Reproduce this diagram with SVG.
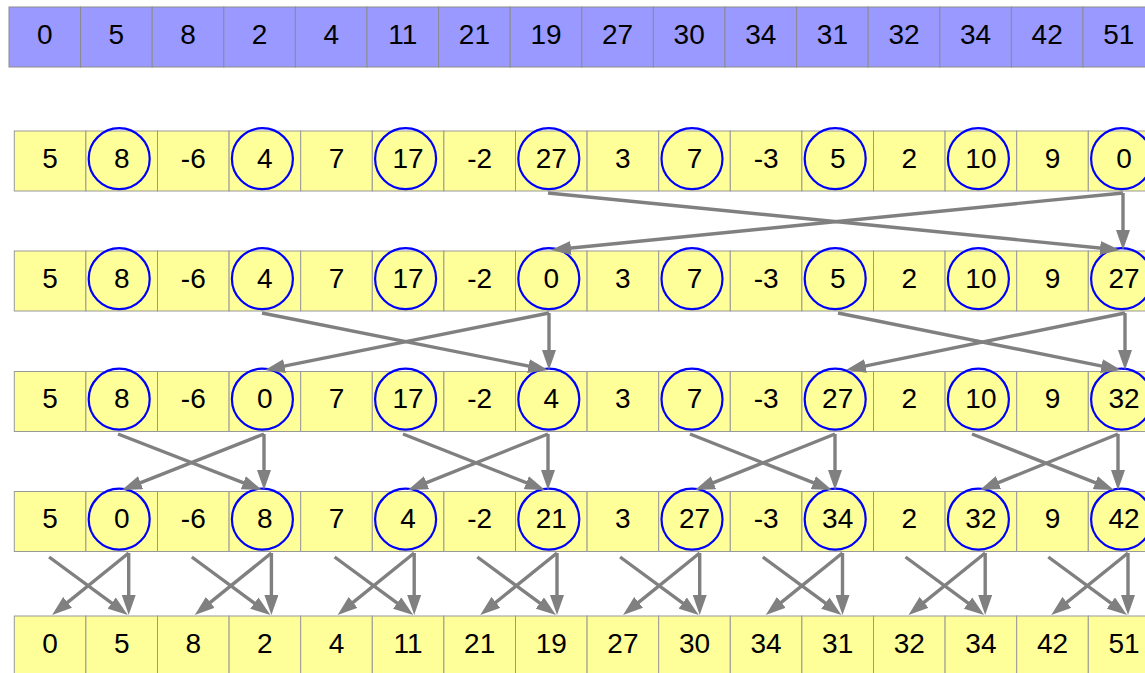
<svg xmlns="http://www.w3.org/2000/svg" width="1145" height="673" viewBox="0 0 1145 673">
<defs>
<style>
text{font-family:"Liberation Sans",Arial,sans-serif;font-size:28px;fill:#000;text-anchor:middle}
.t rect{fill:#9999ff;stroke:#8c8c8c;stroke-width:1}
.y rect{fill:#ffff99;stroke:#999;stroke-width:1}
circle{fill:none;stroke:#0000ff;stroke-width:2.2}
#conn line{stroke:#808080;stroke-width:3.4;marker-end:url(#ah)}
</style>
<marker id="ah" markerUnits="userSpaceOnUse" markerWidth="20" markerHeight="14" refX="12" refY="7" orient="auto"><path d="M0,0 L20,7 L0,14 z" fill="#808080"/></marker>
</defs>
<rect width="1145" height="673" fill="#fff"/>
<g id="row0" class="t">
<g id="r0c0"><rect x="9" y="7" width="71.6" height="60"/><text x="44.8" y="44">0</text></g>
<g id="r0c1"><rect x="80.6" y="7" width="71.6" height="60"/><text x="116.4" y="44">5</text></g>
<g id="r0c2"><rect x="152.2" y="7" width="71.6" height="60"/><text x="188" y="44">8</text></g>
<g id="r0c3"><rect x="223.8" y="7" width="71.6" height="60"/><text x="259.6" y="44">2</text></g>
<g id="r0c4"><rect x="295.4" y="7" width="71.6" height="60"/><text x="331.2" y="44">4</text></g>
<g id="r0c5"><rect x="367" y="7" width="71.6" height="60"/><text x="402.8" y="44">11</text></g>
<g id="r0c6"><rect x="438.6" y="7" width="71.6" height="60"/><text x="474.4" y="44">21</text></g>
<g id="r0c7"><rect x="510.2" y="7" width="71.6" height="60"/><text x="546" y="44">19</text></g>
<g id="r0c8"><rect x="581.8" y="7" width="71.6" height="60"/><text x="617.6" y="44">27</text></g>
<g id="r0c9"><rect x="653.4" y="7" width="71.6" height="60"/><text x="689.2" y="44">30</text></g>
<g id="r0c10"><rect x="725" y="7" width="71.6" height="60"/><text x="760.8" y="44">34</text></g>
<g id="r0c11"><rect x="796.6" y="7" width="71.6" height="60"/><text x="832.4" y="44">31</text></g>
<g id="r0c12"><rect x="868.2" y="7" width="71.6" height="60"/><text x="904" y="44">32</text></g>
<g id="r0c13"><rect x="939.8" y="7" width="71.6" height="60"/><text x="975.6" y="44">34</text></g>
<g id="r0c14"><rect x="1011.4" y="7" width="71.6" height="60"/><text x="1047.2" y="44">42</text></g>
<g id="r0c15"><rect x="1083" y="7" width="71.6" height="60"/><text x="1118.8" y="44">51</text></g>
</g>
<g id="row1" class="y">
<g id="r1c0"><rect x="14.3" y="131" width="71.6" height="60"/><text x="50.1" y="167.5">5</text></g>
<g id="r1c1"><rect x="85.9" y="131" width="71.6" height="60"/><circle cx="119.2" cy="158.7" r="30.5"/><text x="121.7" y="167.5">8</text></g>
<g id="r1c2"><rect x="157.5" y="131" width="71.6" height="60"/><text x="193.3" y="167.5">-6</text></g>
<g id="r1c3"><rect x="229.1" y="131" width="71.6" height="60"/><circle cx="262.4" cy="158.7" r="30.5"/><text x="264.9" y="167.5">4</text></g>
<g id="r1c4"><rect x="300.7" y="131" width="71.6" height="60"/><text x="336.5" y="167.5">7</text></g>
<g id="r1c5"><rect x="372.3" y="131" width="71.6" height="60"/><circle cx="405.6" cy="158.7" r="30.5"/><text x="408.1" y="167.5">17</text></g>
<g id="r1c6"><rect x="443.9" y="131" width="71.6" height="60"/><text x="479.7" y="167.5">-2</text></g>
<g id="r1c7"><rect x="515.5" y="131" width="71.6" height="60"/><circle cx="548.8" cy="158.7" r="30.5"/><text x="551.3" y="167.5">27</text></g>
<g id="r1c8"><rect x="587.1" y="131" width="71.6" height="60"/><text x="622.9" y="167.5">3</text></g>
<g id="r1c9"><rect x="658.7" y="131" width="71.6" height="60"/><circle cx="692" cy="158.7" r="30.5"/><text x="694.5" y="167.5">7</text></g>
<g id="r1c10"><rect x="730.3" y="131" width="71.6" height="60"/><text x="766.1" y="167.5">-3</text></g>
<g id="r1c11"><rect x="801.9" y="131" width="71.6" height="60"/><circle cx="835.2" cy="158.7" r="30.5"/><text x="837.7" y="167.5">5</text></g>
<g id="r1c12"><rect x="873.5" y="131" width="71.6" height="60"/><text x="909.3" y="167.5">2</text></g>
<g id="r1c13"><rect x="945.1" y="131" width="71.6" height="60"/><circle cx="978.4" cy="158.7" r="30.5"/><text x="980.9" y="167.5">10</text></g>
<g id="r1c14"><rect x="1016.7" y="131" width="71.6" height="60"/><text x="1052.5" y="167.5">9</text></g>
<g id="r1c15"><rect x="1088.3" y="131" width="71.6" height="60"/><circle cx="1121.6" cy="158.7" r="30.5"/><text x="1124.1" y="167.5">0</text></g>
</g>
<g id="row2" class="y">
<g id="r2c0"><rect x="14.3" y="251" width="71.6" height="60"/><text x="50.1" y="287.5">5</text></g>
<g id="r2c1"><rect x="85.9" y="251" width="71.6" height="60"/><circle cx="119.2" cy="278.7" r="30.5"/><text x="121.7" y="287.5">8</text></g>
<g id="r2c2"><rect x="157.5" y="251" width="71.6" height="60"/><text x="193.3" y="287.5">-6</text></g>
<g id="r2c3"><rect x="229.1" y="251" width="71.6" height="60"/><circle cx="262.4" cy="278.7" r="30.5"/><text x="264.9" y="287.5">4</text></g>
<g id="r2c4"><rect x="300.7" y="251" width="71.6" height="60"/><text x="336.5" y="287.5">7</text></g>
<g id="r2c5"><rect x="372.3" y="251" width="71.6" height="60"/><circle cx="405.6" cy="278.7" r="30.5"/><text x="408.1" y="287.5">17</text></g>
<g id="r2c6"><rect x="443.9" y="251" width="71.6" height="60"/><text x="479.7" y="287.5">-2</text></g>
<g id="r2c7"><rect x="515.5" y="251" width="71.6" height="60"/><circle cx="548.8" cy="278.7" r="30.5"/><text x="551.3" y="287.5">0</text></g>
<g id="r2c8"><rect x="587.1" y="251" width="71.6" height="60"/><text x="622.9" y="287.5">3</text></g>
<g id="r2c9"><rect x="658.7" y="251" width="71.6" height="60"/><circle cx="692" cy="278.7" r="30.5"/><text x="694.5" y="287.5">7</text></g>
<g id="r2c10"><rect x="730.3" y="251" width="71.6" height="60"/><text x="766.1" y="287.5">-3</text></g>
<g id="r2c11"><rect x="801.9" y="251" width="71.6" height="60"/><circle cx="835.2" cy="278.7" r="30.5"/><text x="837.7" y="287.5">5</text></g>
<g id="r2c12"><rect x="873.5" y="251" width="71.6" height="60"/><text x="909.3" y="287.5">2</text></g>
<g id="r2c13"><rect x="945.1" y="251" width="71.6" height="60"/><circle cx="978.4" cy="278.7" r="30.5"/><text x="980.9" y="287.5">10</text></g>
<g id="r2c14"><rect x="1016.7" y="251" width="71.6" height="60"/><text x="1052.5" y="287.5">9</text></g>
<g id="r2c15"><rect x="1088.3" y="251" width="71.6" height="60"/><circle cx="1121.6" cy="278.7" r="30.5"/><text x="1124.1" y="287.5">27</text></g>
</g>
<g id="row3" class="y">
<g id="r3c0"><rect x="14.3" y="371.5" width="71.6" height="60"/><text x="50.1" y="408">5</text></g>
<g id="r3c1"><rect x="85.9" y="371.5" width="71.6" height="60"/><circle cx="119.2" cy="399.2" r="30.5"/><text x="121.7" y="408">8</text></g>
<g id="r3c2"><rect x="157.5" y="371.5" width="71.6" height="60"/><text x="193.3" y="408">-6</text></g>
<g id="r3c3"><rect x="229.1" y="371.5" width="71.6" height="60"/><circle cx="262.4" cy="399.2" r="30.5"/><text x="264.9" y="408">0</text></g>
<g id="r3c4"><rect x="300.7" y="371.5" width="71.6" height="60"/><text x="336.5" y="408">7</text></g>
<g id="r3c5"><rect x="372.3" y="371.5" width="71.6" height="60"/><circle cx="405.6" cy="399.2" r="30.5"/><text x="408.1" y="408">17</text></g>
<g id="r3c6"><rect x="443.9" y="371.5" width="71.6" height="60"/><text x="479.7" y="408">-2</text></g>
<g id="r3c7"><rect x="515.5" y="371.5" width="71.6" height="60"/><circle cx="548.8" cy="399.2" r="30.5"/><text x="551.3" y="408">4</text></g>
<g id="r3c8"><rect x="587.1" y="371.5" width="71.6" height="60"/><text x="622.9" y="408">3</text></g>
<g id="r3c9"><rect x="658.7" y="371.5" width="71.6" height="60"/><circle cx="692" cy="399.2" r="30.5"/><text x="694.5" y="408">7</text></g>
<g id="r3c10"><rect x="730.3" y="371.5" width="71.6" height="60"/><text x="766.1" y="408">-3</text></g>
<g id="r3c11"><rect x="801.9" y="371.5" width="71.6" height="60"/><circle cx="835.2" cy="399.2" r="30.5"/><text x="837.7" y="408">27</text></g>
<g id="r3c12"><rect x="873.5" y="371.5" width="71.6" height="60"/><text x="909.3" y="408">2</text></g>
<g id="r3c13"><rect x="945.1" y="371.5" width="71.6" height="60"/><circle cx="978.4" cy="399.2" r="30.5"/><text x="980.9" y="408">10</text></g>
<g id="r3c14"><rect x="1016.7" y="371.5" width="71.6" height="60"/><text x="1052.5" y="408">9</text></g>
<g id="r3c15"><rect x="1088.3" y="371.5" width="71.6" height="60"/><circle cx="1121.6" cy="399.2" r="30.5"/><text x="1124.1" y="408">32</text></g>
</g>
<g id="row4" class="y">
<g id="r4c0"><rect x="14.3" y="491.5" width="71.6" height="60"/><text x="50.1" y="528">5</text></g>
<g id="r4c1"><rect x="85.9" y="491.5" width="71.6" height="60"/><circle cx="119.2" cy="519.2" r="30.5"/><text x="121.7" y="528">0</text></g>
<g id="r4c2"><rect x="157.5" y="491.5" width="71.6" height="60"/><text x="193.3" y="528">-6</text></g>
<g id="r4c3"><rect x="229.1" y="491.5" width="71.6" height="60"/><circle cx="262.4" cy="519.2" r="30.5"/><text x="264.9" y="528">8</text></g>
<g id="r4c4"><rect x="300.7" y="491.5" width="71.6" height="60"/><text x="336.5" y="528">7</text></g>
<g id="r4c5"><rect x="372.3" y="491.5" width="71.6" height="60"/><circle cx="405.6" cy="519.2" r="30.5"/><text x="408.1" y="528">4</text></g>
<g id="r4c6"><rect x="443.9" y="491.5" width="71.6" height="60"/><text x="479.7" y="528">-2</text></g>
<g id="r4c7"><rect x="515.5" y="491.5" width="71.6" height="60"/><circle cx="548.8" cy="519.2" r="30.5"/><text x="551.3" y="528">21</text></g>
<g id="r4c8"><rect x="587.1" y="491.5" width="71.6" height="60"/><text x="622.9" y="528">3</text></g>
<g id="r4c9"><rect x="658.7" y="491.5" width="71.6" height="60"/><circle cx="692" cy="519.2" r="30.5"/><text x="694.5" y="528">27</text></g>
<g id="r4c10"><rect x="730.3" y="491.5" width="71.6" height="60"/><text x="766.1" y="528">-3</text></g>
<g id="r4c11"><rect x="801.9" y="491.5" width="71.6" height="60"/><circle cx="835.2" cy="519.2" r="30.5"/><text x="837.7" y="528">34</text></g>
<g id="r4c12"><rect x="873.5" y="491.5" width="71.6" height="60"/><text x="909.3" y="528">2</text></g>
<g id="r4c13"><rect x="945.1" y="491.5" width="71.6" height="60"/><circle cx="978.4" cy="519.2" r="30.5"/><text x="980.9" y="528">32</text></g>
<g id="r4c14"><rect x="1016.7" y="491.5" width="71.6" height="60"/><text x="1052.5" y="528">9</text></g>
<g id="r4c15"><rect x="1088.3" y="491.5" width="71.6" height="60"/><circle cx="1121.6" cy="519.2" r="30.5"/><text x="1124.1" y="528">42</text></g>
</g>
<g id="row5" class="y">
<g id="r5c0"><rect x="14.3" y="616" width="71.6" height="60"/><text x="50.1" y="652.5">0</text></g>
<g id="r5c1"><rect x="85.9" y="616" width="71.6" height="60"/><text x="121.7" y="652.5">5</text></g>
<g id="r5c2"><rect x="157.5" y="616" width="71.6" height="60"/><text x="193.3" y="652.5">8</text></g>
<g id="r5c3"><rect x="229.1" y="616" width="71.6" height="60"/><text x="264.9" y="652.5">2</text></g>
<g id="r5c4"><rect x="300.7" y="616" width="71.6" height="60"/><text x="336.5" y="652.5">4</text></g>
<g id="r5c5"><rect x="372.3" y="616" width="71.6" height="60"/><text x="408.1" y="652.5">11</text></g>
<g id="r5c6"><rect x="443.9" y="616" width="71.6" height="60"/><text x="479.7" y="652.5">21</text></g>
<g id="r5c7"><rect x="515.5" y="616" width="71.6" height="60"/><text x="551.3" y="652.5">19</text></g>
<g id="r5c8"><rect x="587.1" y="616" width="71.6" height="60"/><text x="622.9" y="652.5">27</text></g>
<g id="r5c9"><rect x="658.7" y="616" width="71.6" height="60"/><text x="694.5" y="652.5">30</text></g>
<g id="r5c10"><rect x="730.3" y="616" width="71.6" height="60"/><text x="766.1" y="652.5">34</text></g>
<g id="r5c11"><rect x="801.9" y="616" width="71.6" height="60"/><text x="837.7" y="652.5">31</text></g>
<g id="r5c12"><rect x="873.5" y="616" width="71.6" height="60"/><text x="909.3" y="652.5">32</text></g>
<g id="r5c13"><rect x="945.1" y="616" width="71.6" height="60"/><text x="980.9" y="652.5">34</text></g>
<g id="r5c14"><rect x="1016.7" y="616" width="71.6" height="60"/><text x="1052.5" y="652.5">42</text></g>
<g id="r5c15"><rect x="1088.3" y="616" width="71.6" height="60"/><text x="1124.1" y="652.5">51</text></g>
</g>
<g id="conn">
<line x1="548" y1="193" x2="1112" y2="249.2"/>
<line x1="1123" y1="193" x2="559" y2="249.2"/>
<line x1="1123" y1="193" x2="1123" y2="242"/>
<line x1="262" y1="313" x2="540.2" y2="368.4"/>
<line x1="549" y1="313" x2="272.8" y2="368.4"/>
<line x1="549" y1="313" x2="549" y2="362"/>
<line x1="838" y1="313" x2="1113.2" y2="368.4"/>
<line x1="1125" y1="313" x2="853.8" y2="368.4"/>
<line x1="1125" y1="313" x2="1125" y2="362"/>
<line x1="118" y1="434" x2="254.5" y2="487.1"/>
<line x1="264" y1="434" x2="129.4" y2="487.1"/>
<line x1="264" y1="434" x2="264" y2="482"/>
<line x1="403" y1="434" x2="537.5" y2="487.1"/>
<line x1="548" y1="434" x2="415.4" y2="487.1"/>
<line x1="548" y1="434" x2="548" y2="482"/>
<line x1="690" y1="434" x2="824.5" y2="487.1"/>
<line x1="835" y1="434" x2="702.4" y2="487.1"/>
<line x1="835" y1="434" x2="835" y2="482"/>
<line x1="972" y1="434" x2="1106.5" y2="487.1"/>
<line x1="1118" y1="434" x2="987.4" y2="487.1"/>
<line x1="1118" y1="434" x2="1118" y2="482"/>
<line x1="49.1" y1="557" x2="121.3" y2="610.2"/>
<line x1="128.7" y1="553" x2="58.3" y2="609.9"/>
<line x1="128.7" y1="553" x2="128.7" y2="607"/>
<line x1="191.8" y1="557" x2="264" y2="610.2"/>
<line x1="271.4" y1="553" x2="201" y2="609.9"/>
<line x1="271.4" y1="553" x2="271.4" y2="607"/>
<line x1="334.6" y1="557" x2="406.8" y2="610.2"/>
<line x1="414.2" y1="553" x2="343.8" y2="609.9"/>
<line x1="414.2" y1="553" x2="414.2" y2="607"/>
<line x1="477.3" y1="557" x2="549.5" y2="610.2"/>
<line x1="557" y1="553" x2="486.5" y2="609.9"/>
<line x1="557" y1="553" x2="557" y2="607"/>
<line x1="620.1" y1="557" x2="692.3" y2="610.2"/>
<line x1="699.7" y1="553" x2="629.3" y2="609.9"/>
<line x1="699.7" y1="553" x2="699.7" y2="607"/>
<line x1="762.8" y1="557" x2="835" y2="610.2"/>
<line x1="842.5" y1="553" x2="772" y2="609.9"/>
<line x1="842.5" y1="553" x2="842.5" y2="607"/>
<line x1="905.5" y1="557" x2="977.7" y2="610.2"/>
<line x1="985.2" y1="553" x2="914.7" y2="609.9"/>
<line x1="985.2" y1="553" x2="985.2" y2="607"/>
<line x1="1048.3" y1="557" x2="1120.5" y2="610.2"/>
<line x1="1128" y1="553" x2="1057.5" y2="609.9"/>
<line x1="1128" y1="553" x2="1128" y2="607"/>
</g>
</svg>
